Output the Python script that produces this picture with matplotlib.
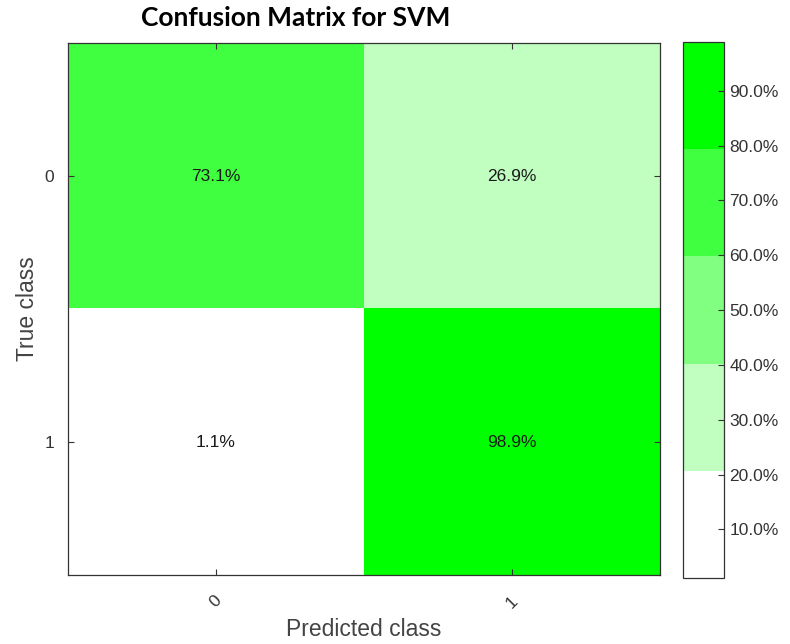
import matplotlib.pyplot as plt
from matplotlib.colors import ListedColormap
import numpy as np

classes = ["0", "1"]
# rows = true class, cols = predicted class, in percent
conf_pct = np.array([[73.1, 26.9],
                     [1.1, 98.9]])
cbar_ticks = [10, 20, 30, 40, 50, 60, 70, 80, 90]

cmap = ListedColormap(["#ffffff", "#c0ffc0", "#80ff80", "#40ff40", "#00ff00"])
vmin, vmax = conf_pct.min(), conf_pct.max()

fig = plt.figure(figsize=(7.9, 6.44), dpi=100)
ax = fig.add_axes([0.086, 0.107, 0.749, 0.826])
cax = fig.add_axes([0.865, 0.102, 0.052, 0.833])

im = ax.imshow(conf_pct, cmap=cmap, vmin=vmin, vmax=vmax, aspect="auto",
               interpolation="nearest")

for i in range(len(classes)):
    for j in range(len(classes)):
        ax.text(j, i, f"{conf_pct[i, j]:.1f}%", ha="center", va="center",
                fontsize=12.5, color="#1a1a1a", family="Liberation Sans")

ax.set_xticks(range(len(classes)))
ax.set_yticks(range(len(classes)))
ax.set_xticklabels(classes, rotation=45, fontsize=12.5, color="#333333",
                   family="Liberation Sans")
ax.set_yticklabels(classes, fontsize=12.5, color="#333333", family="Liberation Sans")
ax.tick_params(direction="in", length=4, top=True, right=True, color="#333333",
               pad=10)
ax.tick_params(axis="x", pad=13)
for s in ax.spines.values():
    s.set_color("#333333")
    s.set_linewidth(0.9)

ax.set_xlabel("Predicted class", fontsize=16.5, color="#444444",
              family="Liberation Sans", labelpad=5)
ax.set_ylabel("True class", fontsize=16.5, color="#444444",
              family="Liberation Sans", labelpad=4)

fig.text(296 / 790, 1 - 18 / 644, "Confusion Matrix for SVM", ha="center",
         va="center", fontsize=19, fontweight="bold", family="Lato")

cb = fig.colorbar(im, cax=cax, ticks=cbar_ticks)
cb.ax.set_yticklabels([f"{t:.1f}%" for t in cbar_ticks], fontsize=12.5,
                      color="#333333", family="Liberation Sans")
cb.ax.tick_params(direction="in", length=4, color="#333333")
cb.outline.set_edgecolor("#333333")
cb.outline.set_linewidth(0.9)

fig.savefig("out.png", dpi=100)
